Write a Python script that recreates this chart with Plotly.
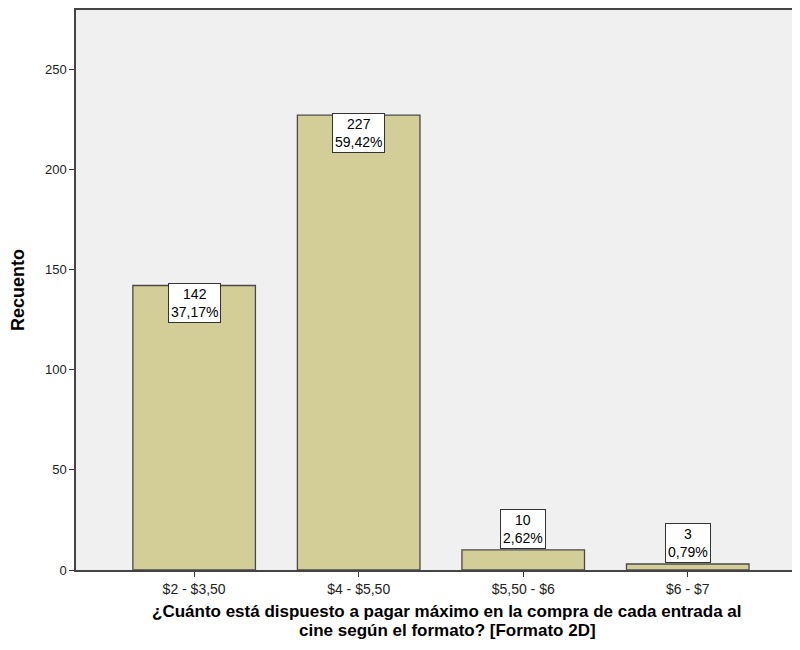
import plotly.graph_objects as go

categories = ["$2 - $3,50", "$4 - $5,50", "$5,50 - $6", "$6 - $7"]
counts = [142, 227, 10, 3]
percents = ["37,17%", "59,42%", "2,62%", "0,79%"]
x_title_lines = ["¿Cuánto está dispuesto a pagar máximo en la compra de cada entrada al",
                 "cine según el formato? [Formato 2D]"]
y_title = "Recuento"

FONT = "Liberation Sans, Arial, sans-serif"

fig = go.Figure()
fig.add_trace(go.Bar(
    x=list(range(len(categories))), y=counts, width=0.745,
    marker=dict(color="#D3CE97", line=dict(color="#4a4a4a", width=1.3)),
    hoverinfo="skip",
))

for i, (c, p) in enumerate(zip(counts, percents)):
    big = c > 50
    fig.add_annotation(
        x=i, y=c, text=f"{c}<br>{p}", showarrow=False,
        yanchor="top" if big else "bottom", xanchor="center",
        font=dict(family=FONT, size=14, color="#000"),
        bgcolor="white", bordercolor="#333", borderwidth=1, borderpad=2,
        align="center", yshift=2 if big else 1,
    )

# x-axis title (two lines, placed individually)
for j, line in enumerate(x_title_lines):
    fig.add_annotation(
        xref="paper", yref="paper", x=0.5, y=0, xshift=10,
        yanchor="middle", xanchor="center", yshift=-(41 + 19 * j),
        text=f"<b>{line}</b>", showarrow=False,
        font=dict(family=FONT, size=17, color="#000"),
    )

fig.add_annotation(
    xref="paper", yref="paper", x=0, y=0.5, xshift=-58, xanchor="center", yanchor="middle",
    text=f"<b>{y_title}</b>", textangle=-90, showarrow=False,
    font=dict(family=FONT, size=18, color="#000"),
)

fig.update_layout(
    width=792, height=642,
    margin=dict(l=68, r=0, t=2, b=80),
    paper_bgcolor="white", plot_bgcolor="#F0F0F0",
    showlegend=False,
    font=dict(family=FONT, color="#000"),
    xaxis=dict(
        range=[-0.718, 3.67], tickmode="array",
        tickvals=list(range(len(categories))), ticktext=categories,
        ticks="outside", ticklen=5, tickcolor="#333",
        showline=True, linecolor="#444", linewidth=1.5, mirror=True,
        showgrid=False, zeroline=False,
        tickfont=dict(size=14, color="#222"),
    ),
    yaxis=dict(
        range=[0, 279.5], tickvals=[0, 50, 100, 150, 200, 250],
        ticks="outside", ticklen=5, tickcolor="#333",
        showline=True, linecolor="#444", linewidth=1.5, mirror=True,
        showgrid=False, zeroline=False,
        tickfont=dict(size=13, color="#222"),
    ),
)

fig.write_html("out.html")
